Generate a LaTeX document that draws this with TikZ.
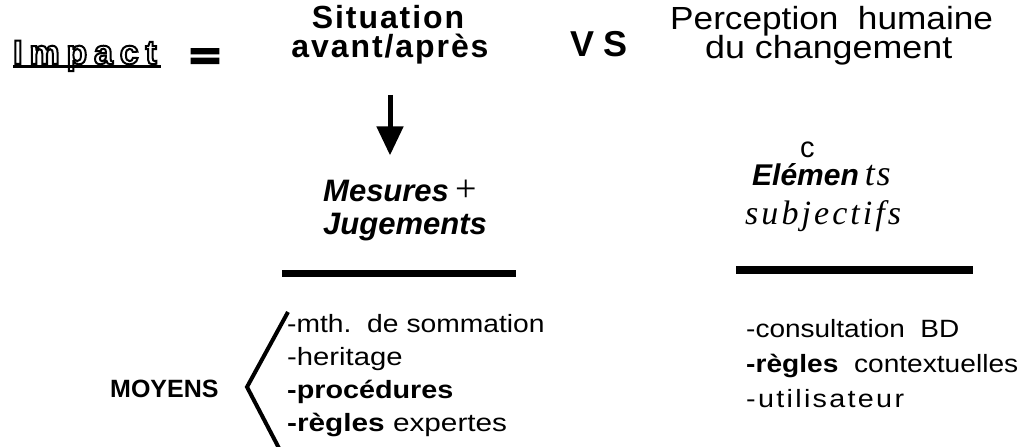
\documentclass[tikz,border=0pt]{standalone}
\usepackage{fontspec}
\usepackage{graphicx}
\setmainfont{Liberation Sans}
\newfontfamily\timesfont{Liberation Serif}
\usetikzlibrary{arrows.meta}

% outlined lettering (stroke-only text rendering mode)
\newcommand\hollow[1]{%
  \special{pdf:literal direct 1 Tr 2 w}#1\special{pdf:literal direct 0 Tr}}
% extra-heavy glyphs (fill and stroke)
\newcommand\heavy[1]{%
  \special{pdf:literal direct 2 Tr 2.5 w}#1\special{pdf:literal direct 0 Tr}}
\newcommand\sz[1]{\fontsize{#1}{#1}\selectfont}
\newcommand\wx[2]{\scalebox{#1}[1]{#2}}

\tikzset{
  txt/.style={inner sep=0pt, anchor=base west},
  txtc/.style={inner sep=0pt, anchor=base},
  bigarrow/.style={line width=5pt, -{Triangle[width=26pt,length=29pt]}},
  rule/.style={fill=black},
  brace/.style={line width=4pt, line join=miter},
}

\begin{document}
\begin{tikzpicture}[x=1pt,y=-1pt]
\useasboundingbox (0,0) rectangle (1026,447);

% title row
\node[txt] (imp) at (13,64) {\sz{34}\bfseries\addfontfeature{LetterSpace=20}\hollow{Impact}};
\draw[line width=3.5pt] ([yshift=-2.5pt]imp.base west) -- ([xshift=148pt,yshift=-2.5pt]imp.base west);
\node[txt] (eq) at (190,68) {\sz{36}\bfseries\wx{1.4}{\heavy{=}}};

\node[txtc] (sit) at (388,28) {\sz{32}\bfseries\addfontfeature{LetterSpace=6}Situation};
\node[txtc] (av) at (390,57) {\sz{32}\bfseries\addfontfeature{LetterSpace=6}avant/après};

\node[txt] (vs) at (570,56) {\sz{36}\bfseries\addfontfeature{LetterSpace=25}VS};

\node[txt] (per) at (670,30) {\sz{32}\wx{1.1}{Perception\ \ humaine}};
\node[txt] (chg) at (705,58) {\sz{32}\wx{1.12}{du changement}};

% left column
\node[txt] (mes) at (323,201) {\sz{31}\bfseries\itshape Mesures\hspace{7pt}{\timesfont\mdseries\upshape\sz{38}+}};
\node[txt] (jug) at (323,234) {\sz{31}\bfseries\itshape Jugements};
\draw[bigarrow, shorten <=31pt, shorten >=24pt] (av.south) -- (av.south |- mes.north);
\fill[rule] (282,270) rectangle (516,277);

% right column
\node[txt] (c) at (800,157) {\sz{29}c};
\node[txt] (el) at (752,185) {\sz{30}\bfseries\itshape Elémen\hspace{6pt}{\timesfont\mdseries\itshape\sz{36}\addfontfeature{LetterSpace=5}ts}};
\node[txt] (sub) at (745,224) {\sz{34}\timesfont\itshape\addfontfeature{LetterSpace=9}subjectifs};
\fill[rule] (736,266) rectangle (973,274);

% means
\node[txt] (moy) at (110,397) {\sz{25}\bfseries MOYENS};
\draw[brace] (288,312) -- (247,387) -- (281,452);
\node[txt] (l1) at (287,332) {\sz{25}\wx{1.13}{-mth.\ \ de sommation}};
\node[txt] (l2) at (287,365) {\sz{25}\wx{1.17}{-heritage}};
\node[txt] (l3) at (287,398) {\sz{25}\wx{1.15}{\bfseries -procédures}};
\node[txt] (l4) at (287,431) {\sz{25}\wx{1.19}{\bfseries -règles\mdseries\ expertes}};

\node[txt] (r1) at (746,337) {\sz{25}\wx{1.12}{-consultation\ \ BD}};
\node[txt] (r2) at (746,372) {\sz{25}\wx{1.125}{\bfseries -règles\mdseries\ \ contextuelles}};
\node[txt] (r3) at (746,407) {\sz{25}\wx{1.15}{\addfontfeature{LetterSpace=8}-utilisateur}};
\end{tikzpicture}
\end{document}
